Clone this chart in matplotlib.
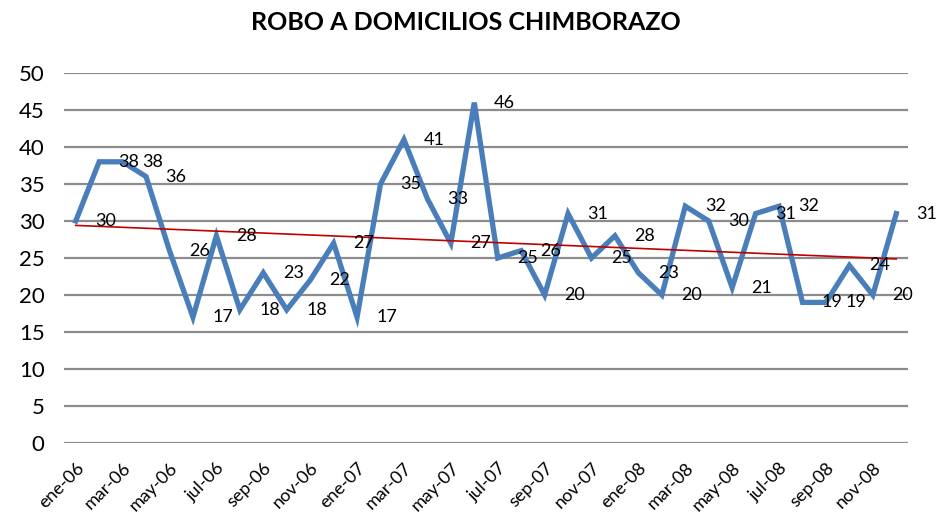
import numpy as np
import matplotlib
matplotlib.use("Agg")
import matplotlib.pyplot as plt

# ---------------- DATA ----------------
months = ["ene", "feb", "mar", "abr", "may", "jun",
          "jul", "ago", "sep", "oct", "nov", "dic"]
years = ["06", "07", "08"]
labels = [f"{m}-{y}" for y in years for m in months]

robos = [30, 38, 38, 36, 26, 17, 28, 18, 23, 18, 22, 27,
         17, 35, 41, 33, 27, 46, 25, 26, 20, 31, 25, 28,
         23, 20, 32, 30, 21, 31, 32, 19, 19, 24, 20, 31]

yticks = [0, 5, 10, 15, 20, 25, 30, 35, 40, 45, 50]

# ---------------- PLOT ----------------
plt.rcParams["font.family"] = ["Lato", "DejaVu Sans"]

fig = plt.figure(figsize=(9.38, 5.23), dpi=100)
ax = fig.add_axes([64 / 938, 1 - 443 / 523, 844 / 938, 370 / 523])

x = np.arange(len(robos))
ax.plot(x, robos, color="#4A7EBB", lw=3.8, solid_joinstyle="miter", zorder=3)

# linear trend
k, b = np.polyfit(x, robos, 1)
ax.plot(x, k * x + b, color="#C00000", lw=1.2, zorder=4)

for xi, v in zip(x, robos):
    ax.annotate(str(v), (xi, v), xytext=(14, 0), textcoords="offset points",
                ha="left", va="center", fontsize=13, zorder=5)

ax.set_xlim(-0.5, len(robos) - 0.5)
ax.set_ylim(0, 50)
ax.set_yticks(yticks)
ax.yaxis.grid(True, color="#8C8C8C", lw=1.6)
ax.set_axisbelow(True)
ax.set_xticks(x[::2])
ax.set_xticklabels(labels[::2], rotation=45, ha="right", rotation_mode="anchor",
                   fontsize=13)
ax.tick_params(axis="y", length=0, labelsize=16, pad=14)
ax.tick_params(axis="x", length=0, pad=12)
for s in ax.spines.values():
    s.set_visible(False)

fig.suptitle("ROBO A DOMICILIOS CHIMBORAZO", x=466 / 938, y=1 - 22 / 523,
             va="center", fontsize=18, fontweight="bold")

fig.savefig("out.png", dpi=100)
